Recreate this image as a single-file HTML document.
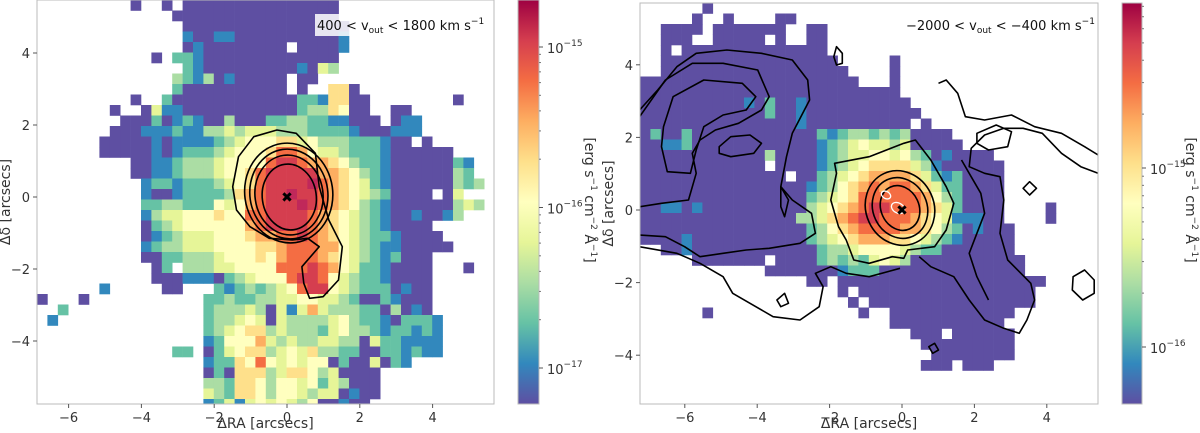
<!DOCTYPE html>
<html><head><meta charset="utf-8"><style>
html,body{margin:0;padding:0;background:#fff;}
svg{display:block;font-family:"DejaVu Sans","Liberation Sans",sans-serif;}
</style></head><body>
<svg id="fig" width="1200" height="433" viewBox="0 0 1200 433" xmlns="http://www.w3.org/2000/svg">
<defs>
<linearGradient id="spec" x1="0" y1="1" x2="0" y2="0">
<stop offset="0" stop-color="#5e4fa2"/><stop offset="0.1" stop-color="#3288bd"/><stop offset="0.2" stop-color="#66c2a5"/><stop offset="0.3" stop-color="#abdda4"/><stop offset="0.4" stop-color="#e6f598"/><stop offset="0.5" stop-color="#ffffbf"/><stop offset="0.6" stop-color="#fee08b"/><stop offset="0.7" stop-color="#fdae61"/><stop offset="0.8" stop-color="#f46d43"/><stop offset="0.9" stop-color="#d53e4f"/><stop offset="1" stop-color="#9e0142"/>
</linearGradient>
<clipPath id="clipL"><rect x="37" y="0" width="457" height="404"/></clipPath>
<clipPath id="clipR"><rect x="640" y="3" width="458" height="401"/></clipPath>
</defs>
<g id="left"><g id="cellsL" clip-path="url(#clipL)"></g><g id="contL" clip-path="url(#clipL)"></g></g>
<g id="right"><g id="cellsR" clip-path="url(#clipR)"></g><g id="contR" clip-path="url(#clipR)"></g></g>
<g id="axes"></g>
</svg>
<script>
const NS="http://www.w3.org/2000/svg";
const colorKey={P:"#5e4fa2",B:"#3288bd",T:"#66c2a5",G:"#abdda4",Y:"#e6f598",L:"#ffffbf","6":"#fee08b","7":"#fdae61","8":"#f46d43","9":"#d53e4f","0":"#c0285a"};
const leftMap=[
".........P..P.PPPPPPPPPPPPPPP...............",
".............PPPPPPPPPPPPPPPP...............",
"..............PPPPPPPPPPPPPPPP..............",
"..............BPPBBPPPPPPPPPPB..............",
"..............PBPPPPPPPP.PPPPB..............",
"...........P.TTBPPPPPPPPPPPPP...............",
"..............TBPPPPPPPPPBPYG...............",
".............GTBGPBPPPPP.PP.................",
".............TPPPPPPPPPP.P..66P.............",
".........P..TPPPPPPPPPPPPTTB66PP........P...",
".......P.."+"PYBBPPPPPPPPPPPTGG6LPP..PP"+"........",
"........PP"+"PTPBTBPPGPPPTTGGTTBBPPP.PB"+"B.......",
".......PPP"+"BBBTBBGGYGYYYGGGTTTTBPPPBB"+"B.......",
"......PPPP"+"PBPBBBBTGYLLL66YLGGGTTTBPP"+".P......",
"......PPPP"+"PBPBTTTGYLLL6887LYYGTTTBPP"+"PPPP....",
".........P"+"PBBTGGGYLLLL8998776LGTTBPP"+"PPPPTB..",
".........P"+"PBBTGGGYLL6899999776LGTBPP"+"PPPPGT..",
".........."+"BTTBTTTGYL6899990876LYTBPP"+"PPPPGTG.",
".........."+"BPPBTTTTG67899099876LYGTPP"+"PP.PY...",
".........."+"TTGGTTTLYL7899909876LGTBPP"+"PPPPGYG.",
".........."+"BGYYLLL6LL889999876LYGTBPP"+"BPPBG...",
".........."+"PTGYLLLLLL789999876LYGTBPP"+"PP......",
".........."+"PBTGYYYLLL677889876LYGTTBP"+"PPP.....",
".........."+"BTGGYYYLLLL66788877LYGTBBP"+"PPPP....",
".........."+"PPTTGGGYLLL6L788876LYGTBTP"+"PP......",
".........."+".PT.GGGYYLLLL888987LYTTBPP"+"PP...P..",
".........."+".PPPBBBPTGYLLL8998LYGTTBPP"+"PP......",
"......B..."+"..PP...TBTGTGYL899LYGTTTPB"+"PP......",
"P...P...........TTGTTGGYYLLYYGTPPTBPPP......",
"..T.............TGGGYGPYBY7YGGGTTPGPBP......",
".B..............TGGYLYPYGGGGYLGTTBPTTTB.....",
"................TGYL66GYGGGTYLGGTBTTBTB.....",
"................BTLLL7YGYGGYYGGPYTTBBBB.....",
".............TT.PTYL66GYLY6GGTTPPTTBTBB.....",
"................BTT6L8LYLYLLPTPPYPTB........",
"................PTP666GY66LGYPPPP...........",
"................GGT66LGLLYLTYGPPP...........",
"................YGT66LGLLYGYYPBPP...........",
"................BTYBYLYLYGLPPBPP............"];
const rightMap=[
"......P",
".....P..P....PP",
"..PPPP.PPPPPPP..PP",
"..PPP..PPPPP.P..PP",
"..P.PPPPPPPPPPPPPP",
"..PPPPPPPPPPPPPPPPP.....P",
"..PPPPPPPPPPPPPPPPPP....P",
"PPPPPPPPPPPPPPPPPPPPP...P",
"PPPPPPPPPPPPPPPPPPPPPPPPP",
"PPPPPPPPPPBPTPPBPPPPPPPPPP",
"PPPPPPPPPPPPTPPBPPPPPPPPPPP",
"PPPPPPPPPPPPPPPBPPPPPPPPPP.P",
"PTPPTPPPPPPPPPPPPTBTGGTGTGPPPP",
"PPBBTPPPPPPPPPPPPBTGYLYYGYPPPPP",
"PPPPPPPPPPPPGPPPPBTGYYLLYLGTPBPPPP",
"PPPPPPPPPPPP.PPPPBTGYL6666YGBPPPPPP",
"PPPPPPPPPPPPPP.PPTGYL677776YTBTPPPP",
"PPPPPPPPPPPPPPPPBTGL67878876YTTPPPP",
"PPPPPPPPPPPPPPPPTGYL68888887LGTPPPP",
"PPBBPBPPPPPPPPPPGYL6789988876YTPPPP....P",
"PPPPPPPPPPPPPPPGGY6789988876LYBBBPP....P",
"PPPPPPPPPPPPPPPPTGL678888776LGTPBPPP",
"PPPPBPPPPPPPPPPPTGYL677766LYGTBPPPPP",
"..PPBPPPPPPPPPPPPTGGYLLLLYGTTPPPPPPP",
".....PPPPPPP.PPPPTGTGTYLYGPPPPPPPPPPP",
"............PPPPPPPBTTTPPPPPPPPPPPPPP",
"................PP.PPPPPPPPPPPPPPPPPPPP",
"...................P.PPPPPPPPPPPPPPPPP",
"....................P.PPPPPPPPPPPPPPPP",
"......P..............P..PPPPPPPPPPPP",
"........................PPPPPPPPPPP",
"..........................PPP.PPPPPP",
"...........................PPPPPPPPP",
"............................PPPPPPPP",
"...........................PPP.PPP"];
const xTicks=[-6,-4,-2,0,2,4];
const yTicks=[-4,-2,0,2,4];
const cbTicksL=[-15,-16,-17];
const cbTicksR=[-15,-16];

const axL={x0:37,x1:494,y0:0,y1:404,sx:v=>287+36.4*v,sy:v=>197-36*v,cx:37,cy:0,cw:10.4,ch:10.5};
const axR={x0:640,x1:1098,y0:3,y1:404,sx:v=>902+36.2*v,sy:v=>210-36.3*v,cx:640,cy:3,cw:10.4,ch:10.5};
const cbL={x:518,w:21,y0:0,y1:404,sy:e=>47+(-15-e)*160.5};
const cbR={x:1122,w:20,y0:3,y1:404,sy:e=>168+(-15-e)*179};

function mk(tag,attrs,parent){const e=document.createElementNS(NS,tag);for(const k in attrs)e.setAttribute(k,attrs[k]);parent.appendChild(e);return e;}
function drawMap(map,ax,gid){
  const g=document.getElementById(gid);
  map.forEach((row,r)=>{for(let c=0;c<row.length;c++){const ch=row[c];if(ch==='.')continue;
    const e=mk('rect',{x:(ax.cx+c*ax.cw).toFixed(2),y:(ax.cy+r*ax.ch).toFixed(2),width:ax.cw+0.3,height:ax.ch+0.3,fill:colorKey[ch]},g);
    
    
  }});
}
drawMap(leftMap,axL,'cellsL');
drawMap(rightMap,axR,'cellsR');

const axes=document.getElementById('axes');
function drawAxes(ax,prefix){
  const fr=mk('rect',{x:ax.x0,y:ax.y0,width:ax.x1-ax.x0,height:ax.y1-ax.y0,fill:'none',stroke:'#bbb','stroke-width':1},axes);
  
  
  xTicks.forEach(v=>{const x=ax.sx(v);if(x<ax.x0||x>ax.x1)return;
    mk('line',{x1:x,y1:ax.y1,x2:x,y2:ax.y1+4,stroke:'#555'},axes);
    const t=mk('text',{x:x,y:ax.y1+18,'text-anchor':'middle','font-size':13,fill:'#333'},axes);
    t.textContent=(v<0?'\u2212'+(-v):v);
    
    
  });
  yTicks.forEach(v=>{const y=ax.sy(v);
    mk('line',{x1:ax.x0,y1:y,x2:ax.x0-4,y2:y,stroke:'#555'},axes);
    const t=mk('text',{x:ax.x0-7,y:y+5,'text-anchor':'end','font-size':13,fill:'#333'},axes);
    t.textContent=(v<0?'\u2212'+(-v):v);
    
    
  });
  const xl=mk('text',{x:(ax.x0+ax.x1)/2,y:428,'text-anchor':'middle','font-size':14,fill:'#333'},axes);
  xl.textContent='\u0394RA [arcsecs]';
  
  
  const yx=ax.x0-27,yy=(ax.y0+ax.y1)/2;
  const yl=mk('text',{x:yx,y:yy,'text-anchor':'middle','font-size':14,fill:'#333',transform:`rotate(-90 ${yx} ${yy})`},axes);
  yl.textContent='\u0394\u03b4 [arcsecs]';
  
  
}
drawAxes(axL,'left');drawAxes(axR,'right');

function drawCb(cb,ticks,prefix,lx){
  const r=mk('rect',{x:cb.x,y:cb.y0,width:cb.w,height:cb.y1-cb.y0,fill:'url(#spec)',stroke:'#bbb'},axes);
  
  
  ticks.forEach(e=>{const y=cb.sy(e);
    mk('line',{x1:cb.x+cb.w,y1:y,x2:cb.x+cb.w+4,y2:y,stroke:'#555'},axes);
    const t=mk('text',{x:cb.x+cb.w+8,y:y+6,'font-size':13,fill:'#333'},axes);
    t.textContent='10';
    const s=mk('tspan',{dy:-7,'font-size':9},t);s.textContent='\u2212'+(-e);
    
    
    for(let m=2;m<10;m++){const ym=cb.sy(e+Math.log10(m));if(ym<cb.y0||ym>cb.y1)continue;
      mk('line',{x1:cb.x+cb.w,y1:ym,x2:cb.x+cb.w+2,y2:ym,stroke:'#777'},axes);}
  });
  const ly=200;
  const t=mk('text',{x:lx,y:ly,'text-anchor':'middle','font-size':14,fill:'#333',transform:`rotate(90 ${lx} ${ly})`},axes);
  t.innerHTML='[erg s<tspan dy="-6" font-size="9">\u22121</tspan><tspan dy="6"> cm</tspan><tspan dy="-6" font-size="9">\u22122</tspan><tspan dy="6"> \u00c5</tspan><tspan dy="-6" font-size="9">\u22121</tspan><tspan dy="6">]</tspan>';
  
  
}
drawCb(cbL,cbTicksL,'left',585);
drawCb(cbR,cbTicksR,'right',1186);

(function(){
  const b=mk('rect',{x:315,y:14,width:177,height:22,fill:'#fff','fill-opacity':0.85},axes);
  
  
  const t=mk('text',{x:317,y:30,'font-size':13,fill:'#111'},axes);
  t.innerHTML='400 &lt; v<tspan dy="3" font-size="9">out</tspan><tspan dy="-3"> &lt; 1800 km s</tspan><tspan dy="-6" font-size="9">\u22121</tspan>';
  
  
  const t2=mk('text',{x:906,y:30,'font-size':13,fill:'#111'},axes);
  t2.innerHTML='\u22122000 &lt; v<tspan dy="3" font-size="9">out</tspan><tspan dy="-3"> &lt; \u2212400 km s</tspan><tspan dy="-6" font-size="9">\u22121</tspan>';
  
  
})();

function zp(pts,ox){return pts.map(p=>[(p[0]/2.6+ox).toFixed(1),(p[1]/3).toFixed(1)].join(',')).join(' ');}
function poly(g,pts,ox,stroke,closed,name){
  const e=mk(closed?'polygon':'polyline',{points:zp(pts,ox),fill:'none',stroke:stroke,'stroke-width':1.6,'stroke-linejoin':'round'},g);
  
  
}
const cL=document.getElementById('contL');
poly(cL,[[720,390],[770,400],[820,460],[830,560],[855,660],[890,740],[880,840],[840,890],[805,895],[790,850],[785,800],[830,740],[800,715],[760,720],[700,715],[650,680],[615,630],[605,560],[620,470],[660,410]],0,'#000',true,'left-contour-outer');
[[44,50,0],[39,45,1],[34,40,2],[27,33,4]].forEach((e,i)=>{
  const el=mk('ellipse',{cx:289,cy:193+e[2],rx:e[0],ry:e[1],fill:'none',stroke:'#000','stroke-width':1.6,transform:'rotate(-8 289 195)'},cL);
  
  
});
const cR=document.getElementById('contR');
const O=600;
poly(cR,[[610,490],[700,470],[790,430],[820,420],[860,480],[900,560],[920,610],[900,690],[870,740],[800,750],[790,775],[760,770],[700,790],[660,780],[640,720],[620,680],[600,600],[615,520]],O,'#000',true,'right-contour-mid');
[[34,38],[27,31],[19,23]].forEach(e=>{
  const el=mk('ellipse',{cx:900,cy:208,rx:e[0],ry:e[1],fill:'none',stroke:'#000','stroke-width':1.6,transform:'rotate(-25 900 208)'},cR);
  
  
});
poly(cR,[[103,330],[150,270],[200,200],[250,160],[330,150],[420,160],[500,180],[540,240],[545,300],[500,400],[485,470],[470,560],[500,600],[550,640],[560,700],[520,730],[440,745],[380,750],[320,760],[260,770],[220,740],[170,710],[103,705]],O,'#000',false,'right-contour-outer-left');
poly(cR,[[103,350],[170,240],[240,190],[320,190],[410,210],[440,290],[420,330],[360,370],[300,390],[260,420],[240,460],[250,520],[230,600],[160,610],[103,620]],O,'#000',false,'right-contour-left-2');
poly(cR,[[165,380],[190,290],[270,240],[370,250],[405,290],[380,330],[320,345],[270,380],[250,450],[235,520],[175,515],[160,440]],O,'#000',true,'right-contour-left-3');
poly(cR,[[310,440],[340,410],[390,405],[420,430],[400,460],[340,470],[310,460]],O,'#000',true,'right-contour-left-4');
poly(cR,[[103,740],[200,760],[260,790],[320,830],[345,880],[390,910],[450,950],[520,960],[570,920],[580,860],[560,820],[600,800],[640,820],[700,830],[780,805]],O,'#000',false,'right-contour-bottom');
poly(cR,[[880,250],[900,240],[930,280],[950,350],[1000,360],[1070,345],[1130,380],[1200,400],[1260,440],[1295,465]],O,'#000',false,'right-contour-right-top');
poly(cR,[[1295,520],[1250,500],[1200,460],[1150,400],[1100,385],[1050,385],[1000,405],[965,445],[960,500],[1000,520],[1040,530],[1050,600],[1040,700],[1060,780],[1120,850],[1130,900],[1110,960],[1090,1000],[1050,985],[1000,960],[960,900],[920,830],[860,800],[830,770]],O,'#000',false,'right-contour-right');
poly(cR,[[980,400],[1030,375],[1070,395],[1060,440],[1010,450],[980,430]],O,'#000',true,'right-contour-loop');
poly(cR,[[1230,830],[1260,810],[1285,840],[1285,880],[1255,900],[1228,870]],O,'#000',true,'right-contour-small');
poly(cR,[[1100,565],[1117,545],[1135,565],[1117,585]],O,'#000',true,'right-contour-diamond');
poly(cR,[[615,140],[630,160],[630,190],[615,195],[608,170]],O,'#000',true,'right-contour-blob');
poly(cR,[[940,480],[960,520],[990,580],[1000,640],[980,700],[960,760],[980,830],[1010,900]],O,'#000',false,'right-contour-right-2');
poly(cR,[[460,900],[480,880],[490,910],[470,920]],O,'#000',true,'right-contour-tiny');
poly(cR,[[470,560],[490,600],[480,650],[470,620]],O,'#000',true,'right-contour-tiny2');
poly(cR,[[855,1040],[870,1030],[880,1050],[865,1060]],O,'#000',true,'right-contour-tiny3');
[[886,195,5,3.5],[898,208,7,5]].forEach(e=>{
  const el=mk('ellipse',{cx:e[0],cy:e[1],rx:e[2],ry:e[3],fill:'none',stroke:'#fff','stroke-width':1.3,transform:`rotate(30 ${e[0]} ${e[1]})`},cR);
  
  
});
[[axL.sx(0),axL.sy(0),'left-centre-marker'],[axR.sx(0),axR.sy(0),'right-centre-marker']].forEach(m=>{
  const t=mk('text',{x:m[0],y:m[1]+5,'text-anchor':'middle','font-size':14,'font-weight':'bold',fill:'#000'},axes);
  t.textContent='\u2716';
  
  
});
</script>
</body></html>
